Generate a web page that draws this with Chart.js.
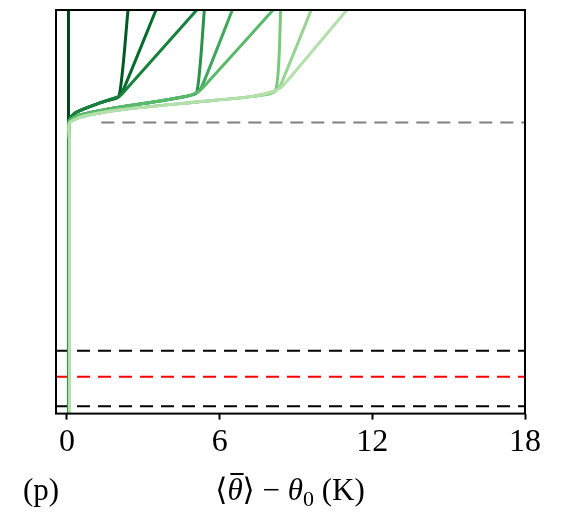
<!DOCTYPE html>
<html>
<head>
<meta charset="utf-8">
<script src="https://cdn.jsdelivr.net/npm/chart.js@4.4.1/dist/chart.umd.min.js"></script>
<style>
  html, body { margin: 0; padding: 0; background: #ffffff; }
  #wrap { width: 561px; height: 512px; }
</style>
</head>
<body>
<div id="wrap"><canvas id="profileChart" width="561" height="512"></canvas></div>
<script>
// x axis ticks (K)
const xTicks = [0, 6, 12, 18];

// profiles, dark to light green (x in K, y in % of domain height)
const profileX = [
  [0.06, 0.06],
  [0.08, 0.08, 0.08, 0.35, 1.0, 1.6, 2.05, 2.4],
  [0.08, 0.08, 0.08, 0.35, 1.0, 1.6, 2.05, 2.2, 3.5],
  [0.08, 0.08, 0.08, 0.35, 1.0, 1.6, 2.05, 2.25, 5.1],
  [0.09, 0.09, 0.09, 0.5, 2.1, 3.6, 4.6, 5.1, 5.4],
  [0.09, 0.09, 0.09, 0.5, 2.1, 3.6, 4.6, 5.1, 5.3, 6.5],
  [0.09, 0.09, 0.09, 0.5, 2.1, 3.6, 4.6, 5.1, 5.35, 8.1],
  [0.1, 0.1, 0.1, 0.6, 2.1, 5.1, 7.3, 8.2, 8.4],
  [0.1, 0.1, 0.1, 0.6, 2.1, 5.1, 7.3, 8.2, 8.4, 9.6],
  [0.1, 0.1, 0.1, 0.6, 2.1, 5.1, 7.3, 8.2, 8.5, 11.0],
];
const profileY = [
  [0, 100],
  [0, 68, 72.8, 74.6, 76.3, 77.6, 78.6, 100],
  [0, 68, 72.8, 74.6, 76.3, 77.6, 78.6, 80.0, 100],
  [0, 68, 72.8, 74.6, 76.3, 77.6, 78.6, 79.8, 100],
  [0, 68, 72.4, 74.0, 76.0, 77.4, 78.5, 79.5, 100],
  [0, 68, 72.4, 74.0, 76.0, 77.4, 78.5, 79.5, 81.0, 100],
  [0, 68, 72.4, 74.0, 76.0, 77.4, 78.5, 79.5, 80.8, 100],
  [0, 68, 72.0, 73.6, 75.3, 77.2, 78.6, 80.0, 100],
  [0, 68, 72.0, 73.6, 75.3, 77.2, 78.6, 80.0, 81.5, 100],
  [0, 68, 72.0, 73.6, 75.3, 77.2, 78.6, 80.0, 81.3, 100],
];
const profileColors = ['#00441b', '#005a24', '#006d2c', '#17813d', '#2a924a',
                       '#3fa85b', '#5ab96b', '#7ac97a', '#98d594', '#b3e0ab'];

// horizontal reference levels
const levelY = [72.1, 15.6, 9.1, 1.8];
const levelStart = [1.35, -0.43, -0.43, -0.43];
const levelColors = ['#808080', '#000000', '#ff0000', '#000000'];

const xMin = -0.43;
const xMax = 18;

const datasets = [];

levelY.forEach((y, i) => {
  datasets.push({
    data: [{ x: levelStart[i], y: y }, { x: xMax, y: y }],
    borderColor: levelColors[i],
    borderWidth: 2,
    borderDash: [13, 8],
    pointRadius: 0,
    order: 50 + i,
  });
});

profileX.forEach((xs, i) => {
  datasets.push({
    data: xs.map((x, j) => ({ x: x, y: profileY[i][j] })),
    borderColor: profileColors[i],
    borderWidth: 3,
    pointRadius: 0,
    tension: 0.2,
    order: profileX.length - i,
  });
});

// frame round the plot area and the x label
const framePlugin = {
  id: 'frame',
  afterDraw(chart) {
    const { ctx, chartArea } = chart;
    ctx.save();
    ctx.strokeStyle = '#000000';
    ctx.lineWidth = 2;
    ctx.strokeRect(chartArea.left, chartArea.top,
      chartArea.right - chartArea.left, chartArea.bottom - chartArea.top);

    // label row
    const base = 500;
    const size = 31;
    const serif = '"Liberation Serif", "DejaVu Serif", serif';
    ctx.fillStyle = '#000000';
    ctx.textBaseline = 'alphabetic';
    ctx.textAlign = 'left';
    ctx.font = `${size}px ${serif}`;
    ctx.fillText('(p)', 23, base);

    const parts = [
      { t: '\u27E8', f: `${size}px ${serif}` },
      { t: '\u03B8', f: `italic ${size}px ${serif}`, bar: true },
      { t: '\u27E9 \u2212 ', f: `${size}px ${serif}` },
      { t: '\u03B8', f: `italic ${size}px ${serif}` },
      { t: '0', f: `${Math.round(size * 0.7)}px ${serif}`, dy: 6 },
      { t: ' (K)', f: `${size}px ${serif}` },
    ];
    let total = 0;
    parts.forEach(p => { ctx.font = p.f; total += ctx.measureText(p.t).width; });
    let x = 290 - total / 2;
    parts.forEach(p => {
      ctx.font = p.f;
      const w = ctx.measureText(p.t).width;
      ctx.fillText(p.t, x, base + (p.dy || 0));
      if (p.bar) {
        ctx.lineWidth = 2;
        ctx.beginPath();
        ctx.moveTo(x + 3, base - 26);
        ctx.lineTo(x + w + 1, base - 26);
        ctx.stroke();
      }
      x += w;
    });
    ctx.restore();
  },
};

new Chart(document.getElementById('profileChart').getContext('2d'), {
  type: 'line',
  data: { datasets: datasets },
  options: {
    responsive: false,
    animation: false,
    events: [],
    layout: { padding: { left: 56, right: 36, top: 10, bottom: 46 } },
    plugins: {
      legend: { display: false },
      tooltip: { enabled: false },
    },
    scales: {
      x: {
        type: 'linear',
        min: xMin,
        max: xMax,
        afterBuildTicks: (scale) => {
          scale.ticks = xTicks.map(v => ({ value: v }));
        },
        border: { display: false },
        grid: {
          drawOnChartArea: false,
          drawTicks: true,
          tickLength: 6,
          tickWidth: 2,
          color: '#000000',
        },
        ticks: {
          color: '#000000',
          padding: 4,
          maxRotation: 0,
          font: { family: '"Liberation Serif", "DejaVu Serif", serif', size: 32 },
        },
      },
      y: {
        type: 'linear',
        display: false,
        min: 0,
        max: 100,
      },
    },
  },
  plugins: [framePlugin],
});
</script>
</body>
</html>
